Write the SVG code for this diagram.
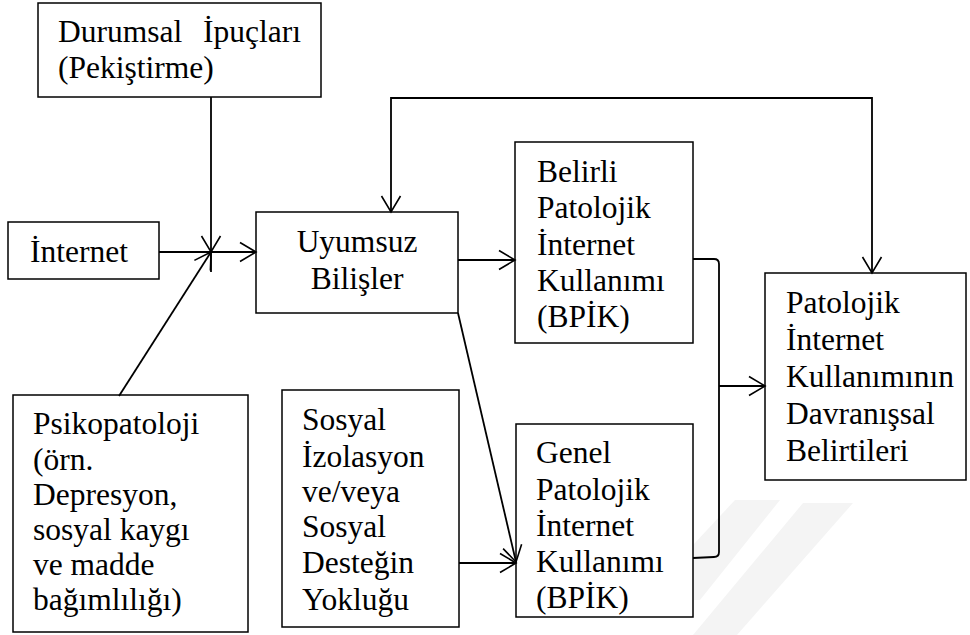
<svg xmlns="http://www.w3.org/2000/svg" width="970" height="635" viewBox="0 0 970 635">
  <style>
    .box { fill: #ffffff; stroke: #000000; stroke-width: 1.5; }
    .lbl { font-family: "Liberation Serif", "Times New Roman", serif; font-size: 31.5px; fill: #000000; }
    .mid { text-anchor: middle; }
    .conn { fill: none; stroke: #000000; stroke-width: 1.8; }
    .wm { fill: #f4f4f4; stroke: none; }
  </style>
  <defs>
    <marker id="arr" markerUnits="userSpaceOnUse" viewBox="-18 -11 20 22" refX="0" refY="0" markerWidth="20" markerHeight="22" orient="auto-start-reverse">
      <path d="M-16,-9.5 L0,0 L-16,9.5" fill="none" stroke="#000000" stroke-width="1.6"/>
    </marker>
    <clipPath id="psikoClip">
      <rect x="13" y="395" width="235" height="229"/>
    </clipPath>
  </defs>
  <rect x="0" y="0" width="970" height="635" fill="#ffffff"/>

  <g id="watermark">
    <polygon class="wm" points="803,503 853,503 737,635 693,635"/>
    <polygon class="wm" points="735,500 780,500 700,600 693,600 693,545"/>
    <polygon class="wm" points="330,500 370,500 300,600 290,600"/>
    <polygon class="wm" points="90,470 130,470 40,590 20,590"/>
  </g>

  <g id="node-durumsal">
    <rect class="box" x="38" y="3" width="283" height="94"/>
    <text class="lbl" y="42"><tspan x="58">Durumsal</tspan><tspan x="203">İpuçları</tspan></text>
    <text class="lbl" x="58" y="78">(Pekiştirme)</text>
  </g>

  <g id="node-internet">
    <rect class="box" x="8" y="222" width="151" height="57"/>
    <text class="lbl" x="30" y="262">İnternet</text>
  </g>

  <g id="node-uyumsuz">
    <rect class="box" x="256" y="212" width="202" height="101"/>
    <text class="lbl mid" x="357" y="252">Uyumsuz</text>
    <text class="lbl mid" x="357" y="289">Bilişler</text>
  </g>

  <g id="node-belirli">
    <rect class="box" x="515" y="142" width="178" height="201"/>
    <text class="lbl" x="537" y="182">Belirli</text>
    <text class="lbl" x="537" y="218">Patolojik</text>
    <text class="lbl" x="537" y="255">İnternet</text>
    <text class="lbl" x="537" y="291">Kullanımı</text>
    <text class="lbl" x="537" y="327">(BPİK)</text>
  </g>

  <g id="node-genel">
    <rect class="box" x="516" y="424" width="177" height="193"/>
    <text class="lbl" x="536" y="463">Genel</text>
    <text class="lbl" x="536" y="500">Patolojik</text>
    <text class="lbl" x="536" y="536">İnternet</text>
    <text class="lbl" x="536" y="572">Kullanımı</text>
    <text class="lbl" x="536" y="608">(BPİK)</text>
  </g>

  <g id="node-patolojik">
    <rect class="box" x="765" y="273" width="201" height="207" stroke-width="2"/>
    <text class="lbl" x="786" y="313">Patolojik</text>
    <text class="lbl" x="786" y="350">İnternet</text>
    <text class="lbl" x="786" y="387">Kullanımının</text>
    <text class="lbl" x="786" y="424">Davranışsal</text>
    <text class="lbl" x="786" y="461">Belirtileri</text>
  </g>

  <g id="node-psikopatoloji">
    <rect class="box" x="13" y="395" width="235" height="237"/>
    <g clip-path="url(#psikoClip)">
      <text class="lbl" x="33" y="434">Psikopatoloji</text>
      <text class="lbl" x="33" y="470">(örn.</text>
      <text class="lbl" x="33" y="505">Depresyon,</text>
      <text class="lbl" x="33" y="540">sosyal kaygı</text>
      <text class="lbl" x="33" y="575">ve madde</text>
      <text class="lbl" x="33" y="610">bağımlılığı)</text>
    </g>
  </g>

  <g id="node-sosyal">
    <rect class="box" x="282" y="390" width="177" height="237"/>
    <text class="lbl" x="302" y="430">Sosyal</text>
    <text class="lbl" x="302" y="467">İzolasyon</text>
    <text class="lbl" x="302" y="502">ve/veya</text>
    <text class="lbl" x="302" y="537">Sosyal</text>
    <text class="lbl" x="302" y="573">Desteğin</text>
    <text class="lbl" x="302" y="610">Yokluğu</text>
  </g>

  <g id="connectors">
    <path class="conn" d="M211,97 V252" marker-end="url(#arr)"/>
    <path class="conn" d="M211,252 V272"/>
    <path class="conn" d="M159,252 H256" marker-end="url(#arr)"/>
    <path class="conn" d="M119,396 L211,252" marker-end="url(#arr)"/>
    <path class="conn" d="M391,212 V98 H872 V273" marker-start="url(#arr)" marker-end="url(#arr)"/>
    <path class="conn" d="M458,260 H515" marker-end="url(#arr)"/>
    <path class="conn" d="M458,313 L516,562" marker-end="url(#arr)"/>
    <path class="conn" d="M459,563 H516" marker-end="url(#arr)"/>
    <path class="conn" d="M693,259 L714,259 Q719,259 719,264 L719,552 Q719,557 714,557 L693,558"/>
    <path class="conn" d="M719,386 H765" marker-end="url(#arr)"/>
  </g>
</svg>
